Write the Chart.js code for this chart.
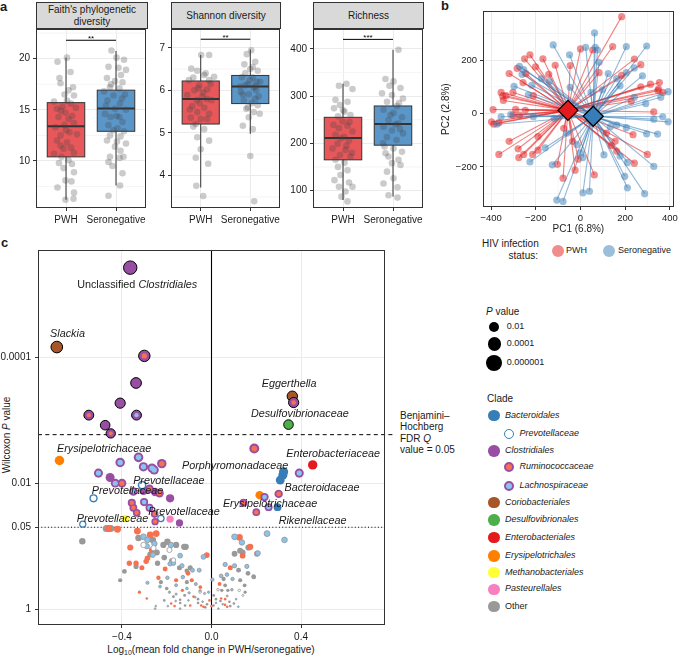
<!DOCTYPE html>
<html><head><meta charset="utf-8">
<script src="https://cdn.jsdelivr.net/npm/chart.js@4.4.1/dist/chart.umd.min.js"></script>
<style>
html,body{margin:0;padding:0;background:#fff}
#root{position:relative;width:685px;height:658px;overflow:hidden;font-family:"Liberation Sans",Arial,Helvetica,sans-serif;color:#1a1a1a}
#root canvas{position:absolute}
.t{position:absolute;white-space:nowrap;line-height:1}
.strip{position:absolute;top:2px;height:27px;background:#D9D9D9;border:1px solid #333;box-sizing:border-box;display:flex;align-items:center;justify-content:center;text-align:center;font-size:10px;line-height:11.5px;color:#1a1a1a}
.dot{position:absolute;border-radius:50%;box-sizing:border-box}
</style></head><body><div id="root">
<div class="t" style="left:0;top:0;font-weight:bold;font-size:13px">a</div>
<div class="t" style="left:441px;top:-1px;font-weight:bold;font-size:13px">b</div>
<div class="t" style="left:1px;top:236px;font-weight:bold;font-size:13px">c</div>
<div class="strip" style="left:36px;width:112px">Faith's phylogenetic<br>diversity</div>
<div class="strip" style="left:171px;width:110px">Shannon diversity</div>
<div class="strip" style="left:313px;width:111px">Richness</div>
<div class="t" style="left:482px;top:238px;width:56px;text-align:right;font-size:10px;line-height:12px">HIV infection<br>status:</div>
<div class="t" style="left:566px;top:246px;font-size:9px">PWH</div>
<div class="t" style="left:618px;top:246px;font-size:9px">Seronegative</div>
<div class="t" style="left:211px;top:645px;transform:translateX(-50%);font-size:10px">Log<sub style="font-size:7px;vertical-align:-2px">10</sub>(mean fold change in PWH/seronegative)</div>
<div class="t" style="left:7px;top:435px;transform:translate(-50%,-50%) rotate(-90deg);font-size:10px">Wilcoxon <i>P</i> value</div>
<div class="t" style="left:400px;top:410px;font-size:10px;line-height:11.3px">Benjamini–<br>Hochberg<br>FDR <i>Q</i><br>value = 0.05</div>
<div class="t" style="left:486px;top:307px;font-size:10px"><i>P</i> value</div>
<div class="t" style="left:487px;top:394px;font-size:10px">Clade</div>
</div>
<script>
// ---------------- DATA ----------------
const groups = ["PWH", "Seronegative"];

// Panel a: Faith's phylogenetic diversity
const faithTicks = [10, 15, 20];
const faithBoxPWH = [6.2, 10.4, 13.4, 15.7, 20.1];
const faithBoxSero = [7.6, 12.9, 15.13, 16.92, 20.75];
const faithPWH = [20.1,19.7,18.7,18.1,17.6,17.2,16.5,16.4,15.8,15.9,15.6,15.3,15.1,15.2,14.7,14.4,14.3,14.1,13.5,13.7,13.3,12.8,12.5,12.6,12.0,11.8,11.5,11.3,11.2,10.7,10.8,10.4,10.1,9.8,9.7,9.3,8.9,8.1,8.0,7.4,6.9,6.2,6.3,16.9,14.9,13.0];
const faithPWHJit = [0.02,-0.17,0.09,-0.13,-0.11,0.14,-0.03,0.16,-0.24,0.02,0.10,-0.07,-0.18,0.20,-0.01,0.12,-0.15,0.05,-0.03,0.16,-0.21,0.07,-0.11,0.22,-0.18,0.02,-0.11,0.10,-0.05,-0.24,0.16,-0.09,0.05,-0.14,0.12,-0.05,0.16,-0.01,0.11,-0.17,0.16,-0.01,0.15,0.05,-0.10,0.0];
const faithSero = [20.8,20.1,19.9,19.2,19.1,18.9,18.1,17.8,17.7,17.2,17.1,16.8,16.5,16.4,15.9,15.6,15.1,15.0,14.6,14.3,14.3,13.8,13.5,13.2,12.9,12.5,12.4,12.0,11.7,11.4,11.0,10.4,10.3,9.9,10.4,9.5,8.8,7.6,6.6,14.4,16.1,13.0,15.4,18.4,11.9,17.5];
const faithSeroJit = [-0.09,0.01,0.16,-0.15,0.05,0.20,-0.18,-0.02,0.13,-0.12,0.07,-0.24,0.18,-0.05,-0.17,0.08,-0.02,0.20,-0.22,-0.11,0.07,0.13,-0.15,0.03,0.16,-0.12,0.09,-0.18,0.20,-0.02,0.09,-0.12,0.07,-0.15,0.15,-0.07,0.13,0.08,-0.15,0.01,0.12,-0.05,-0.20,0.10,0.02,-0.10];

// Panel a: Shannon diversity
const shanTicks = [4, 5, 6, 7];
const shanBoxPWH = [3.72, 5.21, 5.80, 6.22, 6.83];
const shanBoxSero = [4.98, 5.69, 6.09, 6.35, 6.96];
const shanPWH = [6.83,6.83,6.51,6.46,6.36,6.30,6.24,6.12,6.0,6.02,5.89,5.85,5.77,5.77,5.63,5.59,5.49,5.45,5.36,5.33,5.33,5.21,5.09,4.9,4.82,4.62,4.28,4.42,3.76,3.52,6.32,6.24,5.95,5.7,6.15,5.55,6.4,5.8,5.15,6.05];
const shanPWHJit = [0.01,0.17,-0.19,-0.07,0.07,-0.15,0.17,-0.03,-0.13,0.13,-0.27,0.03,-0.08,0.22,-0.17,0.07,-0.07,0.17,-0.20,0.0,0.13,-0.10,0.07,-0.07,0.17,0.0,0.15,-0.10,-0.09,0.05,0.27,-0.24,0.05,-0.02,0.20,-0.22,0.10,0.12,-0.15,-0.05];
const shanSero = [6.94,6.85,6.67,6.61,6.55,6.46,6.31,6.24,6.2,6.12,6.06,5.96,5.91,5.86,5.76,5.7,5.65,5.57,5.49,5.45,5.37,5.17,5.09,4.46,3.4,6.09,6.3,6.0,6.15,6.4,5.8,6.2,5.9,6.5,6.1,5.6];
const shanSeroJit = [0.02,-0.07,0.10,-0.12,0.05,0.15,-0.17,-0.01,0.13,-0.10,0.07,-0.19,-0.03,0.17,-0.13,0.03,0.15,-0.08,0.07,0.19,-0.03,-0.15,0.05,0.0,0.08,-0.20,0.05,0.12,-0.05,-0.10,0.10,0.20,-0.15,0.0,0.10,-0.05];

// Panel a: Richness
const richTicks = [100, 200, 300, 400];
const richBoxPWH = [80, 165, 211, 255, 326];
const richBoxSero = [87, 196, 241, 279, 398];
const richPWH = [326,322,315,292,288,281,274,267,260,257,246,239,237,232,225,218,214,206,199,189,186,175,172,165,159,150,143,133,122,117,108,98,87,77,108,245,210,180,270,195];
const richPWHJit = [0.07,-0.08,0.19,-0.15,0.09,-0.06,-0.18,0.03,0.15,-0.10,-0.01,-0.19,0.09,-0.08,0.19,-0.15,0.02,0.12,-0.11,-0.21,0.05,-0.06,0.15,-0.15,0.03,-0.10,0.09,-0.05,-0.17,0.12,-0.08,0.05,-0.03,0.09,0.19,0.13,-0.05,0.18,0.0,0.07];
const richSero = [398,336,331,322,317,306,302,295,288,279,271,264,255,249,242,235,227,221,213,207,193,189,182,172,165,158,154,140,126,115,107,90,85,179,260,240,285,200,230];
const richSeroJit = [0.11,-0.15,0.01,-0.07,0.15,-0.22,-0.02,0.20,-0.12,0.08,-0.19,0.01,0.18,-0.09,0.11,-0.19,-0.02,0.20,-0.12,0.07,-0.17,0.01,0.18,-0.09,0.11,-0.02,0.15,-0.12,0.01,-0.19,0.09,-0.09,0.09,-0.15,-0.05,0.05,0.12,-0.20,0.14];

// Panel b: PCA
const pcXTicks = [-400, -200, 0, 200, 400];
const pcYTicks = [-200, 0, 200];
const pwhPC1 = [184,0,55,144,-250,-226,-168,-113,-319,-283,-244,-201,-142,241,270,-46,83,184,-355,-348,-302,-333,-345,-257,-211,353,313,270,349,368,346,227,-391,-290,-247,-302,-273,-398,-388,-365,-319,-365,-279,-276,-254,-214,-190,-190,-75,-103,-78,-24,-10,-35,62,155,162,241,299,235,328,138,116];
const pwhPC2 = [363,242,238,251,205,220,205,181,150,169,150,175,147,204,183,180,153,143,79,65,79,67,49,116,67,116,110,100,92,79,86,46,15,16,12,-6,-6,-31,-40,-34,-104,-153,-132,-165,-153,-153,-137,-86,-55,-190,-242,-212,-171,-104,-230,-104,-141,-186,-153,-79,6,-120,-73];
const seroPC1 = [63,-122,-49,23,66,76,205,296,-273,-254,-175,-261,-297,-233,-139,-218,-46,83,124,162,205,241,277,177,98,47,359,392,292,241,-374,-312,-355,-211,-118,328,368,392,296,345,205,162,-226,-158,-126,-60,-17,0,11,40,105,177,210,198,210,287,328,-106,-78,134,11];
const seroPC2 = [302,257,220,248,248,238,251,253,177,165,131,147,102,70,120,106,98,192,150,131,153,171,141,104,89,79,61,82,37,61,-40,-4,-12,-12,-18,-21,-12,-31,-76,-77,-53,-43,-181,-128,-192,-73,-116,-147,-297,-291,-155,-159,-183,-235,-278,-300,-198,-324,-329,-49,-165];
const pwhCentroid = [-56, 12];
const seroCentroid = [57, -10];

// Panel c: volcano (y = -log10 Wilcoxon P)
const cXTicks = [-0.4, 0, 0.4];
const cYTicksP = [1, 0.05, 0.01, 0.0001];
const fdrNegLogP = 2.77;
const bgX = [-0.470,-0.450,-0.460,-0.420,-0.577,-0.331,-0.304,-0.274,-0.247,-0.326,-0.286,-0.262,-0.304,-0.289,-0.255,-0.215,-0.197,-0.181,-0.158,-0.122,-0.363,-0.266,-0.274,-0.262,-0.286,-0.292,-0.244,-0.188,-0.211,-0.140,-0.177,-0.185,-0.241,-0.367,-0.337,-0.337,-0.311,-0.170,-0.207,-0.143,-0.132,-0.110,-0.389,-0.408,-0.237,-0.226,-0.197,-0.158,-0.128,-0.286,-0.110,-0.158,-0.322,-0.188,-0.289,-0.211,-0.158,-0.140,-0.165,-0.252,-0.195,-0.118,0.103,0.125,0.136,0.248,0.326,0.173,0.103,0.139,0.139,0.207,-0.021,-0.036,-0.115,0.061,0.084,0.103,0.121,0.158,0.163,0.188,0.043,0.069,0.054,0.094,0.128,0.148,0.061,0.073,0.091,0.124,0.036,0.004,0.029,0.046,-0.013,-0.095,-0.085,-0.105,-0.055,-0.088,-0.110,-0.051,-0.031,-0.009,0.043,0.061,0.020,-0.073,-0.046,0.031,0.084,-0.028,-0.103,0.128,0.165,0.203,0.189,-0.249,-0.140,0.070,-0.036,0.009,-0.095,-0.170,-0.259,0.140,-0.051,-0.060,0.100,0.120,-0.170,-0.130,-0.070,0.010,0.050,-0.12,-0.10,-0.08,-0.06,-0.04,-0.02,0.00,0.02,0.04,0.06,0.08,0.11,-0.14,-0.16,-0.18,-0.20,-0.23,0.15,-0.05,0.07];
const bgNegLogP = [1.28,1.28,1.28,1.27,1.08,1.24,1.15,1.18,1.20,1.13,1.10,1.10,1.02,1.00,1.04,1.02,1.07,1.02,1.02,0.99,0.98,0.94,0.87,0.86,0.81,0.76,0.90,0.94,0.82,0.85,0.77,0.72,0.73,0.73,0.73,0.68,0.66,0.73,0.64,0.66,0.69,0.61,0.60,0.46,0.50,0.43,0.50,0.46,0.51,0.42,0.43,0.38,0.27,0.27,0.17,0.14,0.24,0.15,0.05,0.01,0.05,0.06,1.15,1.14,1.06,1.20,1.10,0.99,0.88,0.85,0.90,0.89,0.86,0.83,0.99,0.71,0.66,0.69,0.62,0.68,0.57,0.52,0.53,0.55,0.48,0.48,0.46,0.38,0.38,0.30,0.31,0.30,0.40,0.47,0.31,0.30,0.27,0.66,0.62,0.57,0.62,0.46,0.33,0.29,0.25,0.14,0.17,0.16,0.16,0.19,0.06,0.01,0.05,0.03,0.14,0.93,0.98,0.88,0.51,0.05,0.01,0.04,0.04,0.06,0.06,0.78,0.97,0.22,0.27,0.10,0.09,0.04,0.20,0.30,0.40,0.22,0.08,0.22,0.26,0.20,0.16,0.12,0.08,0.05,0.10,0.13,0.07,0.12,0.16,0.10,0.13,0.09,0.33,0.36,0.27,0.35,0.21];
const bgClade = ["O","O","R","R","O","R","L","R","R","O","L","O","V","L","L","O","O","L","O","O","R","R","O","L","R","R","O","V","O","L","O","L","O","R","R","O","R","L","R","O","L","O","O","O","R","O","L","R","L","L","O","L","R","L","R","O","L","O","R","L","L","O","L","R","L","L","L","R","O","R","O","L","R","L","O","L","R","L","O","L","O","O","L","L","O","L","O","O","O","O","L","V","R","L","V","O","L","O","L","R","L","R","L","O","L","R","R","R","O","L","R","L","O","O","L","O","O","O","O","L","L","R","R","O","R","V","V","V","V","O","O","L","O","R","L","O","L","O","L","R","O","L","O","R","L","O","R","O","L","O","L","R","O","L","O","R","L"];
const sigX = [-0.363,-0.691,-0.300,-0.337,-0.408,-0.548,-0.335,-0.475,-0.450,0.361,0.367,0.344,0.191,-0.679,-0.326,-0.408,-0.222,-0.304,-0.266,-0.256,-0.505,-0.453,-0.430,-0.400,0.452,0.392,0.322,0.319,0.307,-0.527,-0.277,-0.232,-0.185,-0.349,-0.304,-0.252,-0.310,0.215,0.237,0.300,-0.356,-0.301,-0.277,-0.349,-0.334,-0.254,0.143,0.200,0.255,0.295,-0.226,-0.185,-0.384,-0.252,-0.143,-0.575];
const sigNegLogP = [5.42,4.16,4.02,3.59,3.27,3.08,3.08,2.92,2.79,3.38,3.28,2.93,2.55,2.36,2.41,2.33,2.31,2.26,2.24,2.21,2.16,2.09,2.00,2.00,2.29,2.16,2.18,2.13,2.05,1.76,1.91,1.84,1.76,1.87,1.88,1.86,1.97,1.81,1.78,1.83,1.69,1.70,1.61,1.61,1.53,1.51,1.69,1.54,1.62,1.62,1.44,1.43,1.44,1.39,1.37,1.35];
const sigClade = ["Clos","Corio","Rumi","Clos","Clos","Rumi","Lach","Clos","Rumi","Corio","Rumi","Desulfo","Rumi","Erysip","Lach","Lach","Rumi","Lach","Lach","Lach","Lach","Clos","Lach","Rumi","Entero","Lach","Bact","Bact","Bact","Prev","Rumi","Rumi","Clos","Lach","Clos","Clos","Prev","Erysip","Lach","Rumi","Rumi","Lach","Lach","Rumi","Rumi","Rumi","Rumi","Rumi","Lach","Bact","Prev","Pasteur","Methano","Rumi","Clos","Prev"];
const lblText = ["Unclassified Clostridiales","Slackia","Eggerthella","Desulfovibrionaceae","Erysipelotrichaceae","Enterobacteriaceae","Porphyromonadaceae","Prevotellaceae","Bacteroidaceae","Prevotellaceae","Erysipelotrichaceae","Prevotellaceae","Prevotellaceae","Rikenellaceae"];
const lblX = [-0.332,-0.721,0.225,0.176,-0.690,0.334,-0.132,-0.350,0.326,-0.535,0.051,-0.282,-0.602,0.300];
const lblNegLogP = [5.15,4.37,3.57,3.10,2.54,2.46,2.27,2.04,1.93,1.87,1.67,1.54,1.43,1.40];
const lblAlign = ["center","left","left","left","left","left","left","left","left","left","left","left","left","left"];

// ---------------- STYLE ----------------
const FAM = '"Liberation Sans", Arial, Helvetica, sans-serif';
const TXT = '#1a1a1a';
const RED = '#E41A1C', BLUE = '#377EB8';
const cladeFill = {Bact:BLUE, Prev:'#ffffff', Clos:'#984EA3', Rumi:'#F7704F', Lach:'#87C4EE', Corio:'#A65628', Desulfo:'#4DAF4A', Entero:'#E41A1C', Erysip:'#FF7F00', Methano:'#FFFF33', Pasteur:'#F781BF', Other:'#999999'};
const cladeRing = {Prev:BLUE, Rumi:'#984EA3', Lach:'#984EA3'};
Chart.defaults.font.family = FAM;
Chart.defaults.color = TXT;
Chart.defaults.animation = false;
Chart.defaults.events = [];
Chart.defaults.plugins.legend.display = false;
Chart.defaults.plugins.tooltip.enabled = false;

// Chart.js paints higher "order" first; give earlier datasets the higher order so they sit underneath
const stack = sets => sets.map((d, i) => Object.assign(d, {order: sets.length - i}));

const root = document.getElementById('root');
function mk(left, top, w, h) {
  const c = document.createElement('canvas');
  c.width = w; c.height = h;
  c.style.left = left + 'px'; c.style.top = top + 'px';
  c.style.width = w + 'px'; c.style.height = h + 'px';
  root.appendChild(c);
  return c.getContext('2d');
}
const minus = v => (v < 0 ? '\u2212' : '') + Math.abs(v);
function sc(o) {
  return {
    type: 'linear', min: o.min, max: o.max,
    afterBuildTicks: s => { s.ticks = o.ticks.map(v => ({value: v})); },
    afterFit: s => { if (o.w != null) s.width = o.w; if (o.h != null) s.height = o.h; },
    ticks: {callback: o.label, font: {size: o.fs || 10}, color: TXT, padding: o.pad != null ? o.pad : 3, autoSkip: false, maxRotation: 0, minRotation: 0},
    grid: {color: '#EBEBEB', lineWidth: 1, drawTicks: true, tickLength: 3, tickColor: '#333', tickWidth: 1},
    border: {display: false},
    title: o.title || {display: false}
  };
}
function line(ctx, x1, y1, x2, y2) { ctx.beginPath(); ctx.moveTo(x1, y1); ctx.lineTo(x2, y2); ctx.stroke(); }
function frame(chart) {
  const {ctx, chartArea: a} = chart;
  ctx.save(); ctx.strokeStyle = '#333'; ctx.lineWidth = 1;
  const l = Math.round(a.left) + 0.5, t = Math.round(a.top) + 0.5, r = Math.round(a.right) - 0.5, b = Math.round(a.bottom) - 0.5;
  ctx.strokeRect(l, t, r - l, b - t); ctx.restore();
}
function minorGrid(chart, xs, ys) {
  const {ctx, chartArea: a, scales: {x, y}} = chart;
  ctx.save(); ctx.strokeStyle = '#F1F1F1'; ctx.lineWidth = 0.7;
  (xs || []).forEach(v => { const p = x.getPixelForValue(v); line(ctx, p, a.top, p, a.bottom); });
  (ys || []).forEach(v => { const p = y.getPixelForValue(v); line(ctx, a.left, p, a.right, p); });
  ctx.restore();
}

// ---------------- PANEL a ----------------
const boxFill = ['#E8575A', '#5B96C9'];
const boxPlugin = {
  id: 'box',
  beforeDatasetsDraw(chart, args, o) {
    const {ctx, scales: {x, y}} = chart;
    minorGrid(chart, null, o.minor);
    ctx.save();
    o.boxes.forEach((b, g) => {
      const xc = x.getPixelForValue(g + 1), hw = x.getPixelForValue(g + 1 + 0.375) - xc;
      ctx.strokeStyle = '#333'; ctx.lineWidth = 1;
      line(ctx, xc, y.getPixelForValue(b[0]), xc, y.getPixelForValue(b[4]));
      const top = y.getPixelForValue(b[3]), bot = y.getPixelForValue(b[1]);
      ctx.fillStyle = boxFill[g];
      ctx.fillRect(xc - hw, top, 2 * hw, bot - top);
      ctx.strokeRect(xc - hw, top, 2 * hw, bot - top);
      ctx.lineWidth = 2;
      const m = y.getPixelForValue(b[2]);
      line(ctx, xc - hw, m, xc + hw, m);
    });
    ctx.restore();
  },
  afterDatasetsDraw(chart, args, o) {
    const {ctx, scales: {x, y}} = chart;
    ctx.save(); ctx.strokeStyle = '#000'; ctx.lineWidth = 1;
    const yy = y.getPixelForValue(o.sigY);
    line(ctx, x.getPixelForValue(1), yy, x.getPixelForValue(2), yy);
    ctx.fillStyle = '#000'; ctx.font = '8px ' + FAM; ctx.textAlign = 'center'; ctx.textBaseline = 'alphabetic';
    ctx.fillText(o.sig, x.getPixelForValue(1.5), yy + 1);
    ctx.restore();
  },
  afterDraw(chart) { frame(chart); }
};
function boxPanel(o) {
  const ctx = mk(o.left, 0, o.w, 232);
  const ds = [0, 1].map(g => ({
    data: o.vals[g].map((v, i) => ({x: g + 1 + (o.jit[g][i] || 0), y: v})),
    pointRadius: 3.3, pointBackgroundColor: 'rgba(70,70,70,0.28)', pointBorderWidth: 0
  }));
  new Chart(ctx, {
    type: 'scatter', data: {datasets: stack(ds)},
    options: {
      responsive: false, maintainAspectRatio: false,
      layout: {padding: {left: 0, top: 29, right: o.padR, bottom: 0}},
      scales: {
        x: sc({min: 0.4, max: 2.6, ticks: [1, 2], label: v => groups[Math.round(v) - 1], h: 24}),
        y: sc({min: o.ymin, max: o.ymax, ticks: o.yt, label: v => String(v), w: o.yw})
      },
      plugins: {box: {boxes: o.boxes, minor: o.minor, sigY: o.sigY, sig: o.sig}}
    },
    plugins: [boxPlugin]
  });
}
boxPanel({left: 0, w: 150, yw: 36, padR: 3, ymin: 5.4, ymax: 22.9, yt: faithTicks, minor: [7.5, 12.5, 17.5, 22.5],
  boxes: [faithBoxPWH, faithBoxSero], vals: [faithPWH, faithSero], jit: [faithPWHJit, faithSeroJit], sigY: 21.8, sig: '**'});
boxPanel({left: 150, w: 135, yw: 21, padR: 5, ymin: 3.24, ymax: 7.44, yt: shanTicks, minor: [3.5, 4.5, 5.5, 6.5],
  boxes: [shanBoxPWH, shanBoxSero], vals: [shanPWH, shanSero], jit: [shanPWHJit, shanSeroJit], sigY: 7.2, sig: '**'});
boxPanel({left: 285, w: 145, yw: 28, padR: 7, ymin: 63, ymax: 442, yt: richTicks, minor: [150, 250, 350],
  boxes: [richBoxPWH, richBoxSero], vals: [richPWH, richSero], jit: [richPWHJit, richSeroJit], sigY: 420, sig: '***'});

// ---------------- PANEL b ----------------
const spokePlugin = {
  id: 'spokes',
  beforeDatasetsDraw(chart) {
    const {ctx, scales: {x, y}} = chart;
    minorGrid(chart, [-300, -100, 100, 300], [-300, -100, 100, 300]);
    ctx.save(); ctx.lineWidth = 1.1;
    const draw = (xs, ys, c, col) => {
      ctx.strokeStyle = col;
      const cx = x.getPixelForValue(c[0]), cy = y.getPixelForValue(c[1]);
      xs.forEach((v, i) => line(ctx, x.getPixelForValue(v), y.getPixelForValue(ys[i]), cx, cy));
    };
    draw(pwhPC1, pwhPC2, pwhCentroid, 'rgba(228,26,28,0.55)');
    draw(seroPC1, seroPC2, seroCentroid, 'rgba(55,126,184,0.55)');
    ctx.restore();
  },
  afterDraw(chart) { frame(chart); }
};
new Chart(mk(440, 0, 245, 240), {
  type: 'scatter',
  data: {datasets: stack([
    {data: pwhPC1.map((v, i) => ({x: v, y: pwhPC2[i]})), pointRadius: 3.6, pointBackgroundColor: 'rgba(228,26,28,0.5)', pointBorderWidth: 0},
    {data: seroPC1.map((v, i) => ({x: v, y: seroPC2[i]})), pointRadius: 3.6, pointBackgroundColor: 'rgba(55,126,184,0.5)', pointBorderWidth: 0},
    {data: [{x: pwhCentroid[0], y: pwhCentroid[1]}], pointStyle: 'rectRot', pointRadius: 10, pointBackgroundColor: RED, pointBorderColor: '#000', pointBorderWidth: 1.3},
    {data: [{x: seroCentroid[0], y: seroCentroid[1]}], pointStyle: 'rectRot', pointRadius: 10, pointBackgroundColor: BLUE, pointBorderColor: '#000', pointBorderWidth: 1.3}
  ])},
  options: {
    responsive: false, maintainAspectRatio: false,
    layout: {padding: {left: 0, top: 7, right: 4, bottom: 0}},
    scales: {
      x: sc({min: -436, max: 417, ticks: pcXTicks, label: minus, h: 33, fs: 9.5,
        title: {display: true, text: 'PC1 (6.8%)', font: {size: 10}, color: TXT, padding: {top: 2, bottom: 5}}}),
      y: sc({min: -350, max: 383, ticks: pcYTicks, label: minus, w: 43, fs: 9.5,
        title: {display: true, text: 'PC2 (2.8%)', font: {size: 10}, color: TXT, padding: {top: 0, bottom: 0}}})
    }
  },
  plugins: [spokePlugin]
});

// ---------------- PANEL c ----------------
const rad = v => Math.max(1.3, 3.1 * Math.sqrt(Math.max(v, 0)));
const cPlugin = {
  id: 'cExtra',
  beforeDatasetsDraw(chart) {
    const {ctx, chartArea: a, scales: {x, y}} = chart;
    ctx.save();
    ctx.strokeStyle = '#000'; ctx.lineWidth = 1.1;
    const x0 = x.getPixelForValue(0);
    line(ctx, x0, a.top, x0, a.bottom);
    ctx.lineWidth = 1;
    const yf = y.getPixelForValue(fdrNegLogP);
    ctx.setLineDash([4, 3.3]);
    line(ctx, a.left, yf, a.right + 9, yf);
    const yd = y.getPixelForValue(-Math.log10(0.05));
    ctx.setLineDash([1, 2.3]);
    line(ctx, a.left, yd, a.right, yd);
    ctx.restore();
  },
  afterDatasetsDraw(chart) {
    const {ctx, scales: {x, y}} = chart;
    ctx.save(); ctx.fillStyle = TXT; ctx.textBaseline = 'middle';
    const fi = 'italic 10.8px ' + FAM, fn = '10.8px ' + FAM;
    lblText.forEach((t, i) => {
      const px = x.getPixelForValue(lblX[i]), py = y.getPixelForValue(lblNegLogP[i]);
      let parts = [[t, fi]];
      if (t.startsWith('Unclassified ')) parts = [['Unclassified ', fn], [t.slice(13), fi]];
      let w = 0;
      parts.forEach(p => { ctx.font = p[1]; w += ctx.measureText(p[0]).width; });
      let cx = lblAlign[i] === 'center' ? px - w / 2 : px;
      ctx.textAlign = 'left';
      parts.forEach(p => { ctx.font = p[1]; ctx.fillText(p[0], cx, py); cx += ctx.measureText(p[0]).width; });
    });
    ctx.restore();
  },
  afterDraw(chart) { frame(chart); }
};
const bgStyle = {O: ['#999999', '#999999', 0], R: ['#F7704F', '#F7704F', 0], L: ['#87C4EE', '#9a9a9a', 0.9], V: ['#ffffff', '#a0a0a0', 0.9]};
const bgSets = Object.keys(bgStyle).map(k => {
  const idx = bgClade.map((c, i) => c === k ? i : -1).filter(i => i >= 0);
  return {
    data: idx.map(i => ({x: bgX[i], y: bgNegLogP[i]})),
    pointRadius: c => rad(c.raw ? c.raw.y : 1) - bgStyle[k][2] / 2,
    pointBackgroundColor: bgStyle[k][0], pointBorderColor: bgStyle[k][1], pointBorderWidth: bgStyle[k][2]
  };
});
const sigPts = sigX.map((v, i) => ({x: v, y: sigNegLogP[i]}));
const isFdr = v => v > fdrNegLogP;
const outerSet = {
  data: sigPts,
  pointRadius: c => { const v = c.raw ? c.raw.y : 1; return rad(v) - (isFdr(v) ? 0.5 : 0); },
  pointBackgroundColor: c => cladeRing[sigClade[c.dataIndex]] || cladeFill[sigClade[c.dataIndex]] || '#999',
  pointBorderColor: '#000',
  pointBorderWidth: c => (c.raw && isFdr(c.raw.y)) ? 1 : 0
};
const ringIdx = sigClade.map((c, i) => cladeRing[c] ? i : -1).filter(i => i >= 0);
const innerSet = {
  data: ringIdx.map(i => ({x: sigX[i], y: sigNegLogP[i]})),
  pointRadius: c => {
    const v = c.raw ? c.raw.y : 1;
    const R = rad(v), cl = sigClade[ringIdx[c.dataIndex]];
    return R - (cl === 'Prev' ? 0.33 : 0.42) * R - (isFdr(v) ? 1 : 0);
  },
  pointBackgroundColor: c => cladeFill[sigClade[ringIdx[c.dataIndex]]] || '#fff',
  pointBorderWidth: 0
};
const yLab = {0: '1', 1.301: '0.05', 2: '0.01', 4: '0.0001'};
new Chart(mk(0, 240, 400, 418), {
  type: 'scatter',
  data: {datasets: stack([...bgSets, outerSet, innerSet])},
  options: {
    responsive: false, maintainAspectRatio: false,
    layout: {padding: {left: 0, top: 6, right: 15, bottom: 0}},
    scales: {
      x: sc({min: -0.775, max: 0.775, ticks: cXTicks, label: v => (v < 0 ? '\u2212' : '') + Math.abs(v).toFixed(1), h: 33, fs: 10}),
      y: sc({min: -0.25, max: 5.70, ticks: cYTicksP.map(p => -Math.log10(p)), label: v => yLab[Math.round(v * 1000) / 1000] || '', w: 38, fs: 10, pad: 4})
    }
  },
  plugins: [cPlugin]
});

// ---------------- legends (HTML) ----------------
function dot(cx, cy, r, fill, border, bw) {
  const d = document.createElement('div');
  d.className = 'dot';
  d.style.left = (cx - r) + 'px'; d.style.top = (cy - r) + 'px';
  d.style.width = (2 * r) + 'px'; d.style.height = (2 * r) + 'px';
  d.style.background = fill;
  if (border) d.style.border = bw + 'px solid ' + border;
  root.appendChild(d);
}
function txt(x, cy, s, size, italic) {
  const d = document.createElement('div');
  d.className = 't';
  d.style.left = x + 'px'; d.style.top = (cy - size / 2 - 0.5) + 'px';
  d.style.fontSize = size + 'px';
  if (italic) d.style.fontStyle = 'italic';
  d.textContent = s;
  root.appendChild(d);
}
dot(558.3, 251, 6, 'rgba(228,26,28,0.5)');
dot(609.3, 251, 6, 'rgba(55,126,184,0.5)');
const pLegP = ['0.01', '0.0001', '0.000001'];
const pLegY = [326.7, 344, 362.7];
const pLegR = [5, 6.7, 8];
pLegP.forEach((s, i) => { dot(494.3, pLegY[i], pLegR[i], '#000'); txt(506.7, pLegY[i], s, 9); });
const legName = ['Bacteroidales', 'Prevotellaceae', 'Clostridiales', 'Ruminococcaceae', 'Lachnospiraceae', 'Coriobacteriales', 'Desulfovibrionales', 'Enterobacteriales', 'Erysipelotrichales', 'Methanobacteriales', 'Pasteurellales', 'Other'];
const legKey = ['Bact', 'Prev', 'Clos', 'Rumi', 'Lach', 'Corio', 'Desulfo', 'Entero', 'Erysip', 'Methano', 'Pasteur', 'Other'];
const legY = [415.7, 434, 451, 467.3, 485.7, 502.7, 520, 537.7, 556, 572.7, 589.3, 606.7];
legKey.forEach((k, i) => {
  const sub = !!cladeRing[k];
  const cx = sub ? 509 : 494, r = sub ? 5 : 5.7;
  if (sub) dot(cx, legY[i], r, cladeFill[k], cladeRing[k], k === 'Prev' ? 1.8 : 2.2);
  else dot(cx, legY[i], r, cladeFill[k]);
  txt(sub ? 519.5 : 505, legY[i], legName[i], 9, k !== 'Other');
});
</script></body></html>
